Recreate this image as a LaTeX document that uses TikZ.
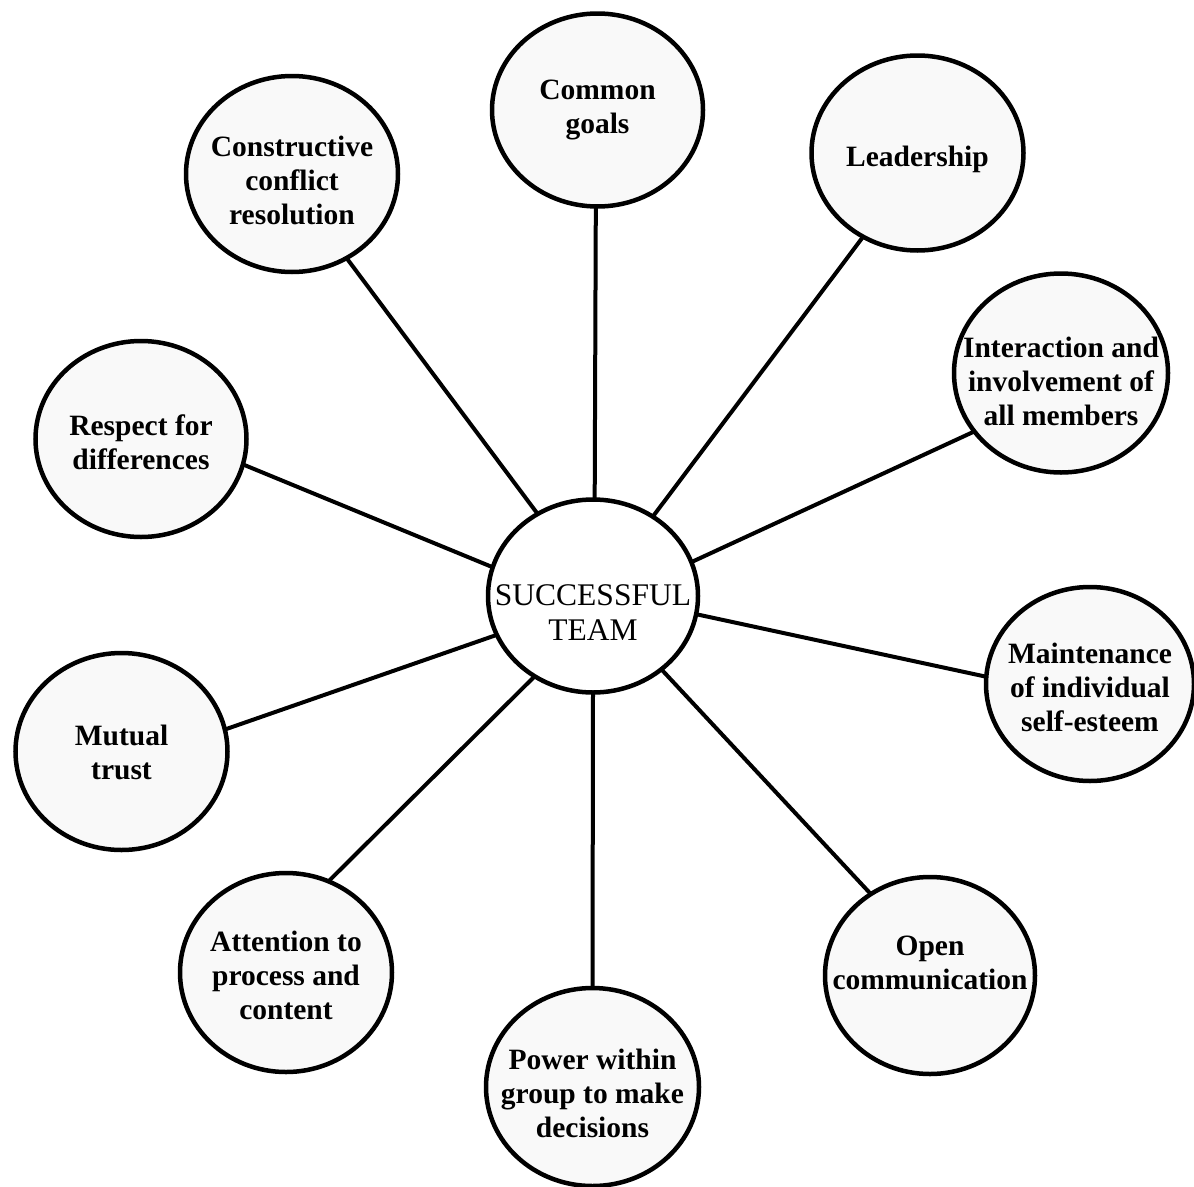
\documentclass[tikz,border=0pt]{standalone}
\usepackage{fontspec}
\setmainfont{Liberation Serif}
\usetikzlibrary{shapes.geometric}
\newcommand\lbl[1]{\begin{tabular}{@{}c@{}}#1\end{tabular}}
\begin{document}
\begin{tikzpicture}[x=1pt,y=-1pt,
  bub/.style={ellipse, draw, line width=4.5pt, fill=black!2.5, inner sep=0pt, outer sep=0pt},
  hub/.style={ellipse, draw, line width=4.5pt, fill=white, inner sep=0pt, outer sep=0pt},
  txt/.style={font=\bfseries\fontsize{29.5}{34}\selectfont, inner sep=0pt},
  hubtxt/.style={font=\fontsize{31.5}{35}\selectfont, inner sep=0pt},
  link/.style={line width=4pt}]
\useasboundingbox (0,0) rectangle (1194,1186);

\node[hub, minimum width=210pt, minimum height=193pt,
  label={[hubtxt,yshift=-19.5pt]center:\lbl{SUCCESSFUL\\TEAM}}] (ctr) at (593,596) {};

\node[bub, minimum width=211pt, minimum height=193pt,
  label={[txt,yshift=0pt]center:\lbl{Common\\goals}}] (goals) at (597.5,110) {};
\node[bub, minimum width=212pt, minimum height=195pt,
  label={[txt,yshift=-7pt]center:\lbl{Leadership}}] (leader) at (917.5,153) {};
\node[bub, minimum width=212pt, minimum height=196pt,
  label={[txt,yshift=-10pt]center:\lbl{Constructive\\conflict\\resolution}}] (constr) at (292,174) {};
\node[bub, minimum width=214pt, minimum height=199pt,
  label={[txt,yshift=-12pt]center:\lbl{Interaction and\\involvement of\\all members}}] (inter) at (1061,373) {};
\node[bub, minimum width=211pt, minimum height=196pt,
  label={[txt,yshift=-7pt]center:\lbl{Respect for\\differences}}] (respect) at (141,439) {};
\node[bub, minimum width=208pt, minimum height=194pt,
  label={[txt,yshift=-7pt]center:\lbl{Maintenance\\of individual\\self-esteem}}] (maint) at (1090,684) {};
\node[bub, minimum width=212pt, minimum height=197pt,
  label={[txt,yshift=-4pt]center:\lbl{Mutual\\trust}}] (mutual) at (121.5,751.5) {};
\node[bub, minimum width=212pt, minimum height=199pt,
  label={[txt,yshift=-6pt]center:\lbl{Attention to\\process and\\content}}] (attn) at (286,972.5) {};
\node[bub, minimum width=213pt, minimum height=198pt,
  label={[txt,yshift=-10pt]center:\lbl{Power within\\group to make\\decisions}}] (power) at (592.5,1087) {};
\node[bub, minimum width=210pt, minimum height=197pt,
  label={[txt,yshift=10pt]center:\lbl{Open\\communication}}] (open) at (930,975.5) {};

\draw[link] (ctr.124) -- (constr.303);
\draw[link] (ctr.89) -- (goals.269);
\draw[link] (ctr.53) -- (leader.237);
\draw[link] (ctr.19) -- (inter.214);
\draw[link] (ctr.164) -- (respect.346.5);
\draw[link] (ctr.202) -- (mutual.12);
\draw[link] (ctr.234) -- (attn.65);
\draw[link] (ctr.270) -- (power.90);
\draw[link] (ctr.313) -- (open.126);
\draw[link] (ctr.350.5) -- (maint.176);
\end{tikzpicture}
\end{document}
